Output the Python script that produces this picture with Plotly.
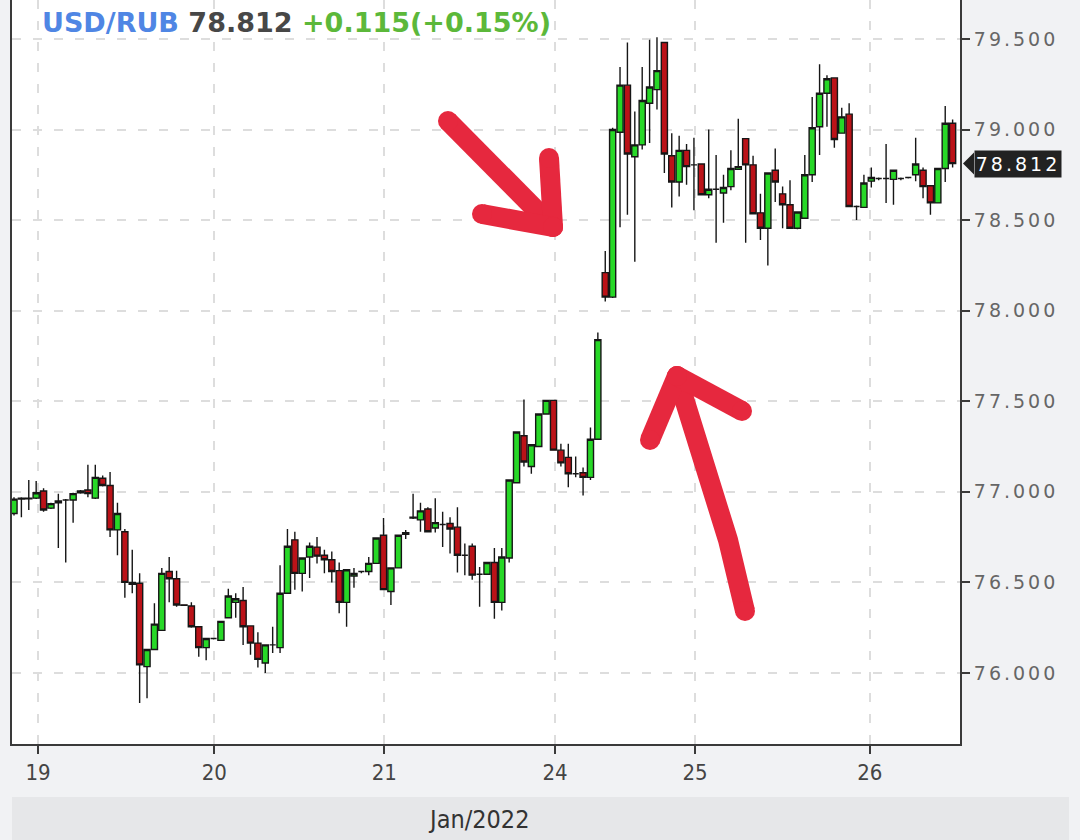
import plotly.graph_objects as go

symbol = "USD/RUB"
last_price = 78.812
change = 0.115
change_pct = 0.15
period_label = "Jan/2022"

open_ = [76.88, 76.96, 76.962, 76.965, 77.005, 76.91, 76.95, 76.955, 76.955, 76.995,
         77.01, 76.965, 77.075, 77.035, 76.79, 76.78, 76.5, 76.495, 76.035, 76.13,
         76.235, 76.56, 76.52, 76.376, 76.37, 76.255, 76.14, 76.19, 76.18, 76.305,
         76.39, 76.4, 76.26, 76.165, 76.055, 76.155, 76.14, 76.44, 76.735, 76.55,
         76.64, 76.695, 76.65, 76.625, 76.565, 76.39, 76.535, 76.56, 76.56, 76.605,
         76.76, 76.45, 76.58, 76.765, 76.855, 76.845, 76.905, 76.8, 76.82, 76.825,
         76.805, 76.65, 76.7, 76.545, 76.545, 76.61, 76.39, 76.635, 77.05, 77.31,
         77.14, 77.25, 77.43, 77.505, 77.23, 77.19, 77.1, 77.105, 77.08, 77.29,
         78.21, 78.075, 78.985, 79.245, 78.85, 78.915, 79.145, 79.22, 79.48, 78.855,
         78.71, 78.885, 78.805, 78.81, 78.64, 78.67, 78.65, 78.685, 78.78, 78.95,
         78.805, 78.54, 78.455, 78.775, 78.645, 78.585, 78.455, 78.51, 78.75, 79.015,
         79.2, 79.285, 78.98, 79.085, 78.575, 78.57, 78.715, 78.73, 78.73, 78.725,
         78.73, 78.735, 78.75, 78.775, 78.69, 78.595, 78.785, 79.035]
high = [76.97, 76.97, 77.065, 77.06, 77.02, 76.94, 76.99, 76.96, 76.995, 77.01,
        77.15, 77.15, 77.09, 77.11, 76.94, 76.795, 76.68, 76.55, 76.13, 76.385,
        76.58, 76.64, 76.565, 76.38, 76.39, 76.255, 76.19, 76.195, 76.285, 76.465,
        76.44, 76.475, 76.26, 76.225, 76.155, 76.255, 76.595, 76.795, 76.78, 76.635,
        76.72, 76.75, 76.68, 76.67, 76.61, 76.57, 76.58, 76.565, 76.64, 76.745,
        76.855, 76.58, 76.76, 76.79, 76.99, 76.94, 76.915, 76.965, 76.89, 76.86,
        76.915, 76.715, 76.715, 76.585, 76.61, 76.69, 76.69, 77.065, 77.33, 77.51,
        77.26, 77.43, 77.505, 77.505, 77.265, 77.265, 77.195, 77.135, 77.355, 77.88,
        78.33, 79.01, 79.345, 79.48, 79.1, 79.345, 79.495, 79.51, 79.48, 78.98,
        78.965, 78.92, 78.955, 78.81, 79.0, 78.86, 78.75, 78.885, 79.06, 78.95,
        78.855, 78.645, 78.76, 78.895, 78.685, 78.72, 78.545, 78.86, 79.18, 79.36,
        79.3, 79.285, 79.12, 79.145, 78.58, 78.75, 78.79, 78.735, 78.92, 78.775,
        78.735, 78.74, 78.955, 78.79, 78.69, 78.785, 79.13, 79.055]
low = [76.87, 76.86, 76.90, 76.96, 76.89, 76.905, 76.69, 76.61, 76.83, 76.99,
       76.97, 76.96, 77.03, 76.75, 76.65, 76.415, 76.44, 75.835, 75.86, 76.13,
       76.235, 76.39, 76.365, 76.37, 76.25, 76.09, 76.07, 76.185, 76.18, 76.305,
       76.305, 76.155, 76.1, 76.03, 76.0, 76.11, 76.11, 76.44, 76.46, 76.45,
       76.525, 76.605, 76.55, 76.5, 76.33, 76.255, 76.47, 76.55, 76.54, 76.605,
       76.46, 76.375, 76.58, 76.74, 76.85, 76.78, 76.775, 76.775, 76.695, 76.66,
       76.555, 76.54, 76.515, 76.365, 76.545, 76.3, 76.345, 76.61, 77.05, 77.14,
       77.1, 77.25, 77.43, 77.23, 77.14, 77.025, 77.08, 76.98, 77.065, 77.29,
       78.05, 78.07, 78.46, 78.53, 78.27, 78.89, 78.925, 79.11, 78.76, 78.57,
       78.63, 78.695, 78.555, 78.64, 78.62, 78.375, 78.485, 78.665, 78.78, 78.375,
       78.535, 78.39, 78.25, 78.6, 78.455, 78.455, 78.45, 78.51, 78.71, 78.86,
       79.015, 78.9, 78.98, 78.575, 78.5, 78.57, 78.68, 78.72, 78.595, 78.585,
       78.72, 78.73, 78.715, 78.62, 78.53, 78.595, 78.71, 78.79]
close = [76.96, 76.965, 76.965, 76.995, 76.90, 76.935, 76.94, 76.955, 76.99, 77.005,
         76.99, 77.08, 77.035, 76.79, 76.88, 76.5, 76.49, 76.045, 76.13, 76.27,
         76.55, 76.52, 76.375, 76.374, 76.255, 76.14, 76.19, 76.19, 76.285, 76.425,
         76.41, 76.255, 76.165, 76.075, 76.155, 76.155, 76.44, 76.7, 76.55, 76.635,
         76.7, 76.645, 76.625, 76.56, 76.39, 76.57, 76.55, 76.56, 76.605, 76.745,
         76.46, 76.58, 76.76, 76.775, 76.86, 76.895, 76.78, 76.83, 76.82, 76.795,
         76.65, 76.65, 76.54, 76.545, 76.61, 76.39, 76.64, 77.065, 77.33, 77.165,
         77.26, 77.43, 77.505, 77.23, 77.16, 77.1, 77.1, 77.08, 77.29, 77.84,
         78.075, 79.0, 79.245, 78.865, 78.915, 79.16, 79.235, 79.325, 78.865, 78.71,
         78.885, 78.795, 78.805, 78.64, 78.67, 78.67, 78.68, 78.785, 78.795, 78.805,
         78.535, 78.455, 78.76, 78.71, 78.585, 78.455, 78.545, 78.75, 79.01, 79.2,
         79.28, 78.945, 79.07, 78.575, 78.575, 78.705, 78.735, 78.73, 78.73, 78.775,
         78.73, 78.735, 78.81, 78.685, 78.595, 78.785, 79.035, 78.812]

candle_index = list(range(len(close)))
day_tick_pos = [3.25, 27.1, 50.1, 73.2, 92.15, 115.8]
day_tick_text = ["19", "20", "21", "24", "25", "26"]
price_ticks = [76.0, 76.5, 77.0, 77.5, 78.0, 78.5, 79.0, 79.5]

# ---- layout geometry (pixels) ----
W, H = 1080, 840
ML, MR, MT, MB = 12, 120, 0, 96
PW, PH = W - ML - MR, H - MT - MB
Y0, Y1 = 75.608, 79.715


def px(xp):
    return (xp - ML) / PW


def py(yp):
    return (H - MB - yp) / PH


def spaced(t, ls=3):
    return "<span style='letter-spacing:%dpx'>%s</span>" % (ls, t)


fig = go.Figure()
fig.add_trace(go.Candlestick(
    x=candle_index, open=open_, high=high, low=low, close=close,
    increasing=dict(fillcolor="#27d827", line=dict(color="#161616", width=1.4)),
    decreasing=dict(fillcolor="#bb1218", line=dict(color="#161616", width=1.4)),
    whiskerwidth=0, showlegend=False, hoverinfo="skip",
))

grid = dict(showgrid=True, gridcolor="#dddddd", gridwidth=1.5, griddash="9px,12px")

fig.update_layout(
    width=W, height=H,
    margin=dict(l=ML, r=MR, t=MT, b=MB, pad=0),
    paper_bgcolor="#f1f2f4", plot_bgcolor="#ffffff",
    boxgap=0.17, boxgroupgap=0,
    showlegend=False,
    hovermode=False,
    xaxis=dict(
        range=[-0.27, 128.0], tickmode="array", tickvals=day_tick_pos, ticktext=day_tick_text,
        rangeslider=dict(visible=False), zeroline=False,
        showline=True, linecolor="#3a3a3a", linewidth=2, mirror=False,
        ticks="outside", ticklen=8, tickwidth=1.5, tickcolor="#3a3a3a",
        tickfont=dict(family="DejaVu Sans Condensed, Liberation Sans Narrow, DejaVu Sans", size=22, color="#444444"),
        **grid,
    ),
    yaxis=dict(
        side="right", range=[Y0, Y1], tickmode="array", tickvals=price_ticks,
        ticktext=[spaced("%.3f" % v) for v in price_ticks], zeroline=False,
        showline=True, linecolor="#3a3a3a", linewidth=2, mirror=True,
        ticks="outside", ticklen=8, tickwidth=1.5, tickcolor="#3a3a3a",
        tickfont=dict(family="DejaVu Sans", size=19, color="#666666"),
        **grid,
    ),
)

shapes = []
# bottom band behind the period label
shapes.append(dict(type="rect", xref="paper", yref="paper", x0=px(12), x1=px(1069),
                   y0=py(797), y1=py(840), fillcolor="#e6e7e9", line=dict(width=0), layer="below"))
# current price marker pointer
dy = 11 / PH * (Y1 - Y0)
shapes.append(dict(type="path", xref="paper", yref="y",
                   path="M %f,%f L %f,%f L %f,%f Z" % (px(963), last_price, px(974), last_price + dy,
                                                       px(974), last_price - dy),
                   fillcolor="#222222", line=dict(width=0)))

# hand-drawn red arrows
red = "#e6283e"
arrows = [
    [(448, 121), (553, 227)],
    [(549, 158), (553, 227)],
    [(482, 214), (553, 227)],
    [(745, 611), (728, 540), (700, 450), (677, 376)],
    [(650, 440), (677, 376)],
    [(677, 376), (742, 411)],
]
for seg in arrows:
    path = "M " + " L ".join("%f,%f" % (px(a), py(b)) for a, b in seg)
    shapes.append(dict(type="path", xref="paper", yref="paper", path=path,
                       line=dict(color=red, width=20)))
    for a, b in (seg[0], seg[-1]):
        shapes.append(dict(type="circle", xref="paper", yref="paper", xsizemode="pixel", ysizemode="pixel",
                           xanchor=px(a), yanchor=py(b), x0=-10, x1=10, y0=-10, y1=10,
                           fillcolor=red, line=dict(width=0)))
fig.update_layout(shapes=shapes)

sign = "+" if change >= 0 else ""
title = ("<b><span style='color:#4f86e4'>%s</span> <span style='color:#474747'>%.3f</span> "
         "<span style='color:#5cb83a'>%s%.3f(%s%.2f%%)</span></b>" % (symbol, last_price, sign, change, sign, change_pct))
fig.add_annotation(xref="paper", yref="paper", x=px(40), y=py(23), xanchor="left", yanchor="middle",
                   text=title, showarrow=False, font=dict(family="DejaVu Sans", size=27))
fig.add_annotation(xref="paper", yref="y", x=px(974), y=last_price, xanchor="left", yanchor="middle",
                   text=spaced("%.3f" % last_price), showarrow=False, bgcolor="#222222",
                   width=84, height=24, borderpad=1,
                   font=dict(family="DejaVu Sans", size=19, color="#ffffff"))
fig.add_annotation(xref="paper", yref="paper", x=px(478), y=py(820), xanchor="center", yanchor="middle",
                   text=period_label, showarrow=False,
                   font=dict(family="DejaVu Sans Condensed, Liberation Sans Narrow, DejaVu Sans", size=25, color="#333333"))

fig.write_html("out.html", config={"displayModeBar": False},
               post_script="document.body.style.margin='0px';")
